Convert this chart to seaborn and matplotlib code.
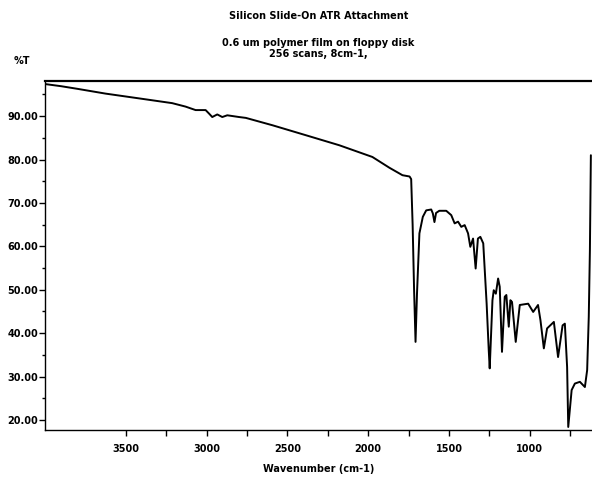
import matplotlib
matplotlib.use("Agg")
import matplotlib.pyplot as plt
import matplotlib.ticker as mticker
import seaborn as sns

# values
wavenumber = [4000, 3900, 3800, 3626, 3419, 3213, 3130, 3068, 3006, 2985, 2965,
              2934, 2903, 2872, 2799, 2757, 2592, 2385, 2179, 1974, 1868, 1788,
              1744, 1734, 1725, 1716, 1707, 1698, 1683, 1662, 1641, 1610, 1600,
              1590, 1580, 1560, 1517, 1486, 1465, 1444, 1424, 1403, 1382, 1368,
              1351, 1335, 1321, 1306, 1288, 1267, 1254, 1248, 1231, 1223, 1210,
              1196, 1186, 1172, 1155, 1145, 1130, 1120, 1110, 1087, 1062, 1010,
              979, 949, 934, 913, 893, 851, 825, 797, 783, 769, 762, 741, 721,
              690, 659, 645, 635, 628, 622]
transmittance = [97.4, 96.9, 96.3, 95.2, 94.1, 93.0, 92.2, 91.4, 91.4, 90.6, 89.8,
                 90.4, 89.8, 90.2, 89.8, 89.6, 87.9, 85.6, 83.3, 80.6, 78.1, 76.4,
                 76.1, 75.5, 65.0, 50.0, 38.0, 49.1, 63.0, 66.8, 68.3, 68.5, 67.6,
                 65.6, 67.7, 68.2, 68.2, 67.2, 65.3, 65.7, 64.5, 64.9, 63.0, 59.9,
                 61.8, 54.9, 61.8, 62.2, 60.7, 46.8, 36.1, 31.9, 47.6, 49.9, 49.1,
                 52.6, 50.7, 35.7, 48.4, 48.8, 41.5, 47.6, 47.2, 38.0, 46.5, 46.8,
                 44.9, 46.5, 43.0, 36.5, 41.1, 42.6, 34.5, 41.8, 42.2, 32.2, 18.4,
                 26.9, 28.4, 28.8, 27.6, 31.5, 43.8, 59.1, 81.0]

x_major = [3500, 3000, 2500, 2000, 1500, 1000]
x_minor = [3250, 2750, 2250, 1750, 1250, 750]
y_major = [20, 30, 40, 50, 60, 70, 80, 90]
y_minor = [25, 35, 45, 55, 65, 75, 85, 95]

sns.set_style("ticks")
plt.rcParams["font.family"] = ["DejaVu Sans"]
plt.rcParams["text.color"] = "black"
plt.rcParams["axes.labelcolor"] = "black"

fig = plt.figure(figsize=(5.92, 4.8), dpi=100)
ax = fig.add_axes([45 / 592, 1 - 430 / 480, 547 / 592, (430 - 81) / 480])

sns.lineplot(x=wavenumber, y=transmittance, sort=False, estimator=None,
             color="black", linewidth=1.4, ax=ax)

ax.set_xlim(4000, 615)
ax.set_ylim(17.7, 98.1)

ax.xaxis.set_major_locator(mticker.FixedLocator(x_major))
ax.xaxis.set_minor_locator(mticker.FixedLocator(x_minor))
ax.yaxis.set_major_locator(mticker.FixedLocator(y_major))
ax.yaxis.set_minor_locator(mticker.FixedLocator(y_minor))
ax.yaxis.set_major_formatter(mticker.FormatStrFormatter("%.2f"))

ax.tick_params(axis="both", which="both", direction="out", color="black",
               width=1.0, labelsize=7, labelcolor="black")
ax.tick_params(axis="x", which="both", length=4, pad=6)
ax.tick_params(axis="y", which="major", length=4, pad=1)
ax.tick_params(axis="y", which="minor", length=2.5)
for lbl in ax.get_xticklabels() + ax.get_yticklabels():
    lbl.set_fontweight("bold")

for side in ["left", "bottom", "top"]:
    ax.spines[side].set_color("black")
    ax.spines[side].set_linewidth(1.0)
ax.spines["top"].set_linewidth(1.6)
ax.spines["right"].set_visible(False)

ax.set_xlabel("Wavenumber (cm-1)", fontsize=7, fontweight="bold", labelpad=7)
ax.set_ylabel("")

fig.text(319 / 592, 1 - 16 / 480, "Silicon Slide-On ATR Attachment",
         ha="center", va="center", fontsize=7, fontweight="bold")
fig.text(318 / 592, 1 - 43 / 480, "0.6 um polymer film on floppy disk",
         ha="center", va="center", fontsize=7, fontweight="bold")
fig.text(318 / 592, 1 - 54 / 480, "256 scans, 8cm-1,",
         ha="center", va="center", fontsize=7, fontweight="bold")
fig.text(22 / 592, 1 - 61 / 480, "%T", ha="center", va="center",
         fontsize=7, fontweight="bold")

fig.savefig("out.png", dpi=100, facecolor="white")
